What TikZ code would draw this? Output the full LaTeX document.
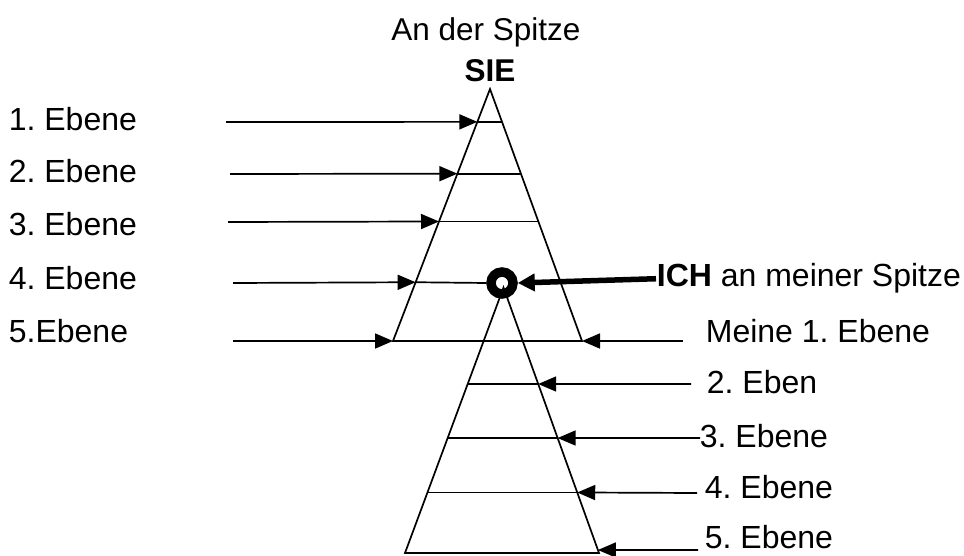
\documentclass[tikz,border=0pt]{standalone}
\usepackage{fontspec}
\setmainfont{Liberation Sans}
\usetikzlibrary{arrows.meta,calc}
\begin{document}
\frenchspacing
\begin{tikzpicture}[x=1pt,y=-1pt,line width=1.7pt,
  lbl/.style={anchor=base west,inner sep=0pt,font=\fontsize{32}{38}\selectfont},
  ctr/.style={anchor=base,inner sep=0pt,font=\fontsize{31.5}{38}\selectfont},
  arr/.style={-{Triangle[length=18pt,width=15pt]}},
  thickarr/.style={line width=5.5pt,-{Triangle[length=17pt,width=17pt]}},
  ring/.style={circle,draw,line width=9.5pt,minimum size=22pt,inner sep=0pt}]
\useasboundingbox (0,0) rectangle (964,556);
% upper triangle
\coordinate (A) at (490,89);
\coordinate (BL) at (393,341);
\coordinate (BR) at (582,341);
\draw (BL) -- (A) -- (BR) -- cycle;
\foreach \t/\n in {0.1304/1,0.336/2,0.5257/3,0.7668/4}{
  \coordinate (L\n) at ($(A)!\t!(BL)$);
  \coordinate (R\n) at ($(A)!\t!(BR)$);
}
\draw (L1) -- (R1);
\draw (L2) -- (R2);
\draw (L3) -- (R3);
% lower triangle
\coordinate (a2) at (503.5,287.5);
\coordinate (bl2) at (405,553);
\coordinate (br2) at (599,553);
\draw (bl2) -- (a2) -- (br2) -- cycle;
\foreach \t/\n in {0.3635/1,0.5669/2,0.7720/3,0.9887/4}{
  \coordinate (l\n) at ($(a2)!\t!(bl2)$);
  \coordinate (r\n) at ($(a2)!\t!(br2)$);
}
\draw (l1) -- (r1);
\draw (l2) -- (r2);
\draw (l3) -- (r3);
% ring
\node[ring] (ich) at (502,283) {};
\draw (L4) -- (ich.west);
% top texts
\node[ctr] (spitze) at (486,41) {An der Spitze};
\node[ctr] (sie) at (490,82) {\textbf{SIE}};
% left labels
\node[lbl] (e1) at (8,131) {1. Ebene};
\node[lbl] (e2) at (8,183) {2. Ebene};
\node[lbl] (e3) at (8,236) {3. Ebene};
\node[lbl] (e4) at (8,290) {4. Ebene};
\node[lbl] (e5) at (8,342) {5.Ebene};
\coordinate (s1) at (226,122);
\coordinate (s2) at (230,174);
\coordinate (s3) at (228,222);
\coordinate (s4) at (233,283);
\coordinate (s5) at (233,341);
\draw[arr] (s1) -- (L1);
\draw[arr] (s2) -- (L2);
\draw[arr] (s3) -- (L3);
\draw[arr] (s4) -- (L4);
\draw[arr] (s5) -- (BL);
% right labels
\node[lbl] (ichl) at (656,287) {\textbf{ICH} an meiner Spitze};
\node[lbl] (m1) at (705,342) {Meine 1. Ebene};
\node[lbl] (m2) at (706,393) {2. Eben};
\node[lbl] (m3) at (699,447) {3. Ebene};
\node[lbl] (m4) at (704,498) {4. Ebene};
\node[lbl] (m5) at (704,548) {5. Ebene};
\draw[thickarr] (ichl.west) -- (ich.east);
\coordinate (t1) at (683,341);
\coordinate (t2) at (691,384);
\coordinate (t3) at (700,438);
\coordinate (t4) at (697,493);
\coordinate (t5) at (698,550);
\draw[arr] (t1) -- (BR);
\draw[arr] (t2) -- (r1);
\draw[arr] (t3) -- (r2);
\draw[arr] (t4) -- (r3);
\draw[arr] (t5) -- (r4);
\end{tikzpicture}
\end{document}
